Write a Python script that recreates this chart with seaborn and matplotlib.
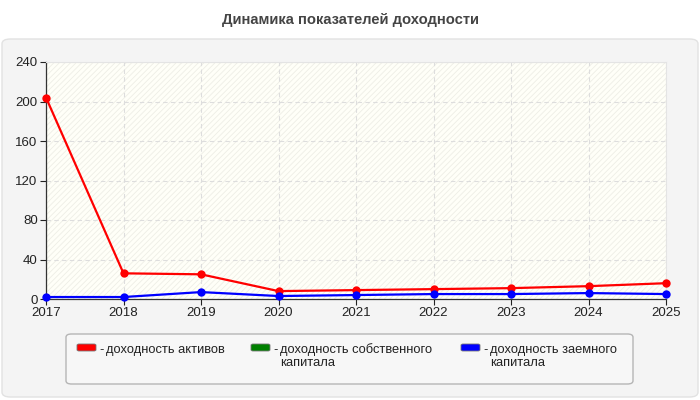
import pandas as pd
import seaborn as sns
import matplotlib.pyplot as plt
from matplotlib.patches import FancyBboxPatch, Rectangle

years = [2017, 2018, 2019, 2020, 2021, 2022, 2023, 2024, 2025]
assets = [204, 26, 25, 8, 9, 10, 11, 13, 16]
equity = [None] * 9
borrowed = [2, 2, 7, 3, 4, 5, 5, 6, 5]

names = ['доходность активов', 'доходность собственного\nкапитала', 'доходность заемного\nкапитала']
colors = ['#ff0000', '#008000', '#0000ff']

data = pd.DataFrame({
    'year': years * 3,
    'value': assets + equity + borrowed,
    'series': [names[0]] * 9 + [names[1]] * 9 + [names[2]] * 9,
})
data = data.dropna()

sns.set_style("white")
plt.rcParams['font.family'] = ['Liberation Sans', 'DejaVu Sans']
plt.rcParams['hatch.linewidth'] = 0.6

W, H = 700, 400
fig = plt.figure(figsize=(7, 4), dpi=100)
fig.patch.set_facecolor('white')


def fx(px):
    return px / W


def fy(py):
    return 1 - py / H


# grey panel behind chart
fig.patches.append(FancyBboxPatch((fx(2), fy(397)), fx(696), 358 / H, boxstyle='round,pad=0,rounding_size=0.012',
                                  transform=fig.transFigure, facecolor='#f4f4f4', edgecolor='#e2e2e2', lw=1,
                                  zorder=-10))
fig.text(0.5, fy(20), 'Динамика показателей доходности', ha='center', va='center',
         fontsize=10.6, fontweight='bold', color='#444444')

ax = fig.add_axes([fx(46), 101 / H, 620 / W, 237 / H])
ax.set_facecolor('#fffff8')
ax.add_patch(Rectangle((0, 0), 1, 1, transform=ax.transAxes, fill=False, hatch='//////',
                       edgecolor='#eeeee6', lw=0, zorder=0))

pal = {names[0]: colors[0], names[2]: colors[2]}
sns.lineplot(data=data, x='year', y='value', hue='series', palette=pal, marker='o', markersize=6,
             markeredgewidth=0, linewidth=1.6, legend=False, ax=ax, clip_on=False, zorder=3)

ax.set_xlim(2017, 2025)
ax.set_ylim(0, 240)
ax.set_xticks(years)
ax.set_yticks(range(0, 241, 40))
ax.grid(True, ls=(0, (4, 3)), color='#dddddd', lw=0.8)
ax.set_axisbelow(True)
ax.set_xlabel('')
ax.set_ylabel('')
ax.tick_params(axis='both', labelsize=9.5, colors='#222222', length=4, width=0.8, direction='out', pad=2,
               left=True, bottom=True)
for s in ['left', 'bottom']:
    ax.spines[s].set_color('#333333')
    ax.spines[s].set_linewidth(0.9)
for s in ['top', 'right']:
    ax.spines[s].set_color('#e4e4e4')
    ax.spines[s].set_linewidth(0.8)

# legend box
fig.patches.append(FancyBboxPatch((fx(66), fy(384)), 567 / W, 50 / H,
                                  boxstyle='round,pad=0,rounding_size=0.008', transform=fig.transFigure,
                                  facecolor='#f7f7f7', edgecolor='#b5b5b5', lw=1, zorder=1))
item_x = [77, 251, 461]
for x0, name, c in zip(item_x, names, colors):
    fig.patches.append(FancyBboxPatch((fx(x0), fy(351)), 19 / W, 7 / H,
                                      boxstyle='round,pad=0,rounding_size=0.003', transform=fig.transFigure,
                                      facecolor=c, edgecolor='#777777', lw=0.6, zorder=2))
    fig.text(fx(x0 + 22), fy(353), '-', fontsize=9.3, color='#222222', va='baseline', zorder=3)
    for i, line in enumerate(name.split('\n')):
        fig.text(fx(x0 + 29), fy(353 + 13 * i), line, fontsize=9.3, color='#222222', va='baseline', zorder=3)

plt.savefig('out.png', dpi=100)
